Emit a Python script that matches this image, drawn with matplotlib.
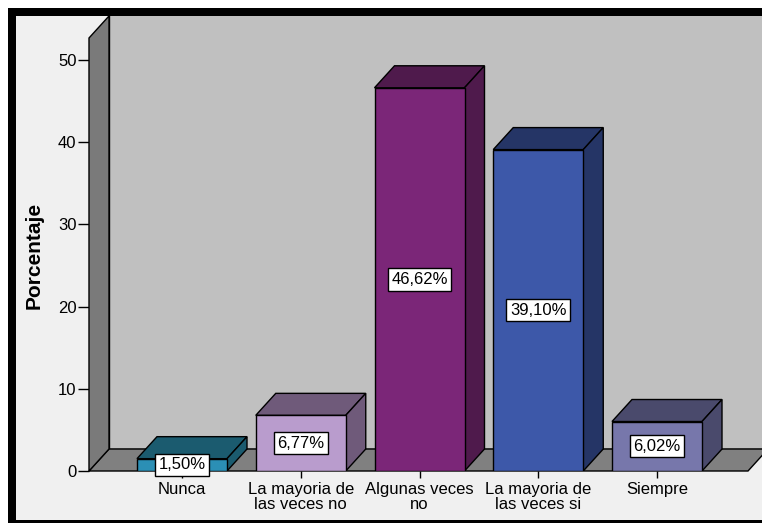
import matplotlib
matplotlib.use("Agg")
import matplotlib.pyplot as plt
from matplotlib.patches import Polygon, Rectangle

plt.rcParams['font.family'] = ['Liberation Sans', 'DejaVu Sans']

# Data
categories = ["Nunca", "La mayoria de\nlas veces no", "Algunas veces\nno",
              "La mayoria de\nlas veces si", "Siempre"]
percentages = [1.50, 6.77, 46.62, 39.10, 6.02]
value_labels = ["1,50%", "6,77%", "46,62%", "39,10%", "6,02%"]
front_colors = ["#2b8fb5", "#b99ccd", "#7b2678", "#3d58a9", "#7777ab"]
shade_colors = ["#1b5b6f", "#6f5a7a", "#4f1a4c", "#253566", "#4a4a6c"]
y_ticks = [0, 10, 20, 30, 40, 50]

W, H = 762, 523
fig = plt.figure(figsize=(W / 100, H / 100), dpi=100, facecolor="white")

# Outer frame: black border with light gray panel
fig.add_artist(Rectangle((8 / W, 0), 1 - 8 / W, (H - 8) / H,
                         transform=fig.transFigure, facecolor="black",
                         edgecolor="none", zorder=0))
fig.add_artist(Rectangle((16 / W, 3 / H), 1 - 16 / W, (H - 16 - 3) / H,
                         transform=fig.transFigure, facecolor="#f0f0f0",
                         edgecolor="none", zorder=0))

# Plot area
ax_left, ax_bottom_px, ax_top_px = 89, 471, 16
ax = fig.add_axes([ax_left / W, (H - ax_bottom_px) / H,
                   (W - ax_left) / W, (ax_bottom_px - ax_top_px) / H])
ax.set_facecolor("none")
for s in ax.spines.values():
    s.set_visible(False)

px_per_unit = (471 - 60) / 50.0
ymax = (ax_bottom_px - ax_top_px) / px_per_unit
cat_px = 118.75
x0 = (89 - 182) / cat_px
xmax = (W - 182) / cat_px
ax.set_xlim(x0, xmax)
ax.set_ylim(0, ymax)

# depth offsets of the 3D effect (in data units)
dx = 20 / cat_px
dy = 22 / px_per_unit
wall_top = ymax - dy
floor_right = (748 - 182) / cat_px

lw = 1.0
# back wall
ax.add_patch(Polygon([(x0 + dx, dy), (x0 + dx, ymax + 1), (xmax + 1, ymax + 1),
                      (xmax + 1, dy)], closed=True, facecolor="#c0c0c0",
                     edgecolor="black", linewidth=lw, zorder=1))
# floor
ax.add_patch(Polygon([(x0, 0), (floor_right, 0), (floor_right + dx, dy),
                      (x0 + dx, dy)], closed=True, facecolor="#808080",
                     edgecolor="black", linewidth=lw, zorder=2, clip_on=False))
# left wall
ax.add_patch(Polygon([(x0, 0), (x0, wall_top), (x0 + dx, wall_top + dy),
                      (x0 + dx, dy)], closed=True, facecolor="#7a7a7a",
                     edgecolor="black", linewidth=lw, zorder=2, clip_on=False))

# Bars
xs = list(range(len(categories)))
bw = 90 / cat_px
ax.bar(xs, percentages, width=bw, color=front_colors, edgecolor="black",
       linewidth=lw, zorder=4)
for x, v, sc in zip(xs, percentages, shade_colors):
    l, r = x - bw / 2, x + bw / 2
    ax.add_patch(Polygon([(l, v), (r, v), (r + dx, v + dy), (l + dx, v + dy)],
                         closed=True, facecolor=sc, edgecolor="black",
                         linewidth=lw, zorder=3))
    ax.add_patch(Polygon([(r, 0), (r, v), (r + dx, v + dy), (r + dx, dy)],
                         closed=True, facecolor=sc, edgecolor="black",
                         linewidth=lw, zorder=3))

for x, v, lab in zip(xs, percentages, value_labels):
    ax.text(x, v / 2, lab, ha="center", va="center", fontsize=12,
            color="black", zorder=6,
            bbox=dict(boxstyle="square,pad=0.22", facecolor="white",
                      edgecolor="black", linewidth=1.0))

# Ticks
ax.set_yticks(y_ticks)
ax.set_yticklabels([str(t) for t in y_ticks])
ax.set_xticks(xs)
ax.set_xticklabels(categories, linespacing=1.0)
ax.tick_params(axis="y", direction="out", length=8, width=1, pad=1,
               labelsize=12, colors="black")
ax.tick_params(axis="x", direction="out", length=5, width=1, pad=3,
               labelsize=12, colors="black")
for t in ax.get_yticklines():
    t.set_zorder(5)

fig.text(34 / W, 1 - 255 / H, "Porcentaje", rotation=90, ha="center",
         va="center", fontsize=15, fontweight="bold", color="black")

fig.savefig("out.png", dpi=100, facecolor=fig.get_facecolor())
